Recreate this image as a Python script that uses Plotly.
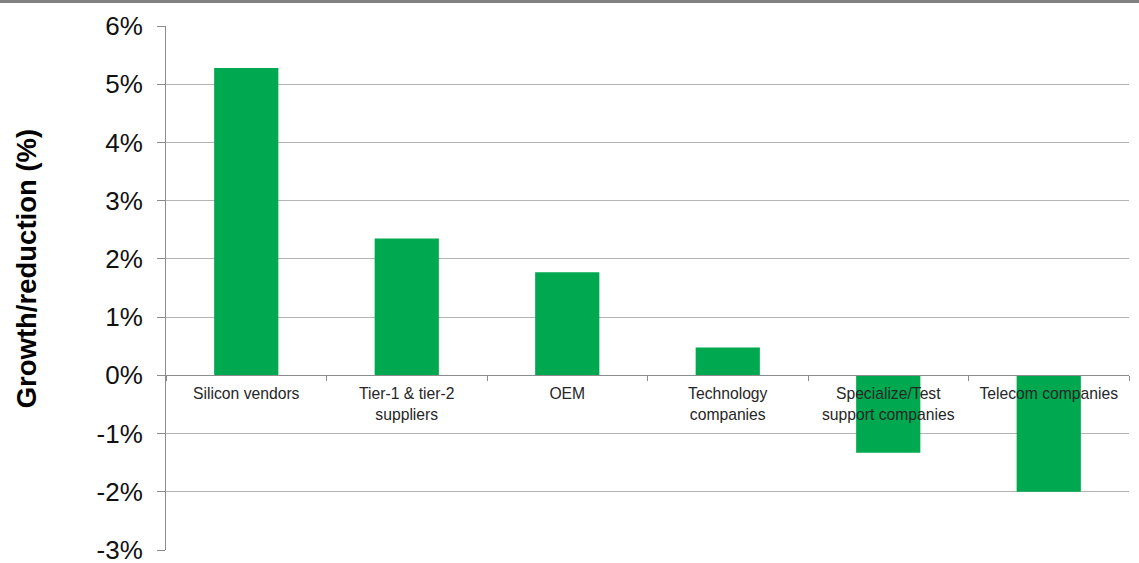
import plotly.graph_objects as go

# Change in share by company type, percent
categories = [
    "Silicon vendors",
    "Tier-1 & tier-2<br>suppliers",
    "OEM",
    "Technology<br>companies",
    "Specialize/Test<br>support companies",
    "Telecom companies",
]
growth_pct = [5.28, 2.35, 1.77, 0.48, -1.33, -2.0]

y_ticks = [-3, -2, -1, 0, 1, 2, 3, 4, 5, 6]
y_tick_labels = [f"{v}%" for v in y_ticks]

FONT = "Arial, Liberation Sans, sans-serif"
GREEN = "#00A94F"
GRID = "#B4B4B4"
AXIS = "#8C8C8C"

y_min, y_max = -3, 6

fig = go.Figure(
    go.Bar(
        x=categories,
        y=growth_pct,
        xaxis="x2",
        yaxis="y",
        marker=dict(color=GREEN, line=dict(width=0)),
        width=0.4,
    )
)

fig.update_layout(
    width=1139,
    height=563,
    margin=dict(l=166, r=10, t=26, b=13, autoexpand=False),
    paper_bgcolor="white",
    plot_bgcolor="white",
    showlegend=False,
    bargap=0.6,
    # bottom axis: only its baseline is drawn
    xaxis=dict(
        showline=True,
        linecolor=AXIS,
        linewidth=1,
        showticklabels=False,
        ticks="",
        showgrid=False,
        zeroline=False,
        automargin=False,
        fixedrange=True,
    ),
    # category axis drawn along the zero line
    xaxis2=dict(
        type="category",
        overlaying="x",
        anchor="free",
        position=(0 - y_min) / (y_max - y_min),
        side="bottom",
        showline=True,
        linecolor=AXIS,
        linewidth=1,
        ticks="outside",
        tickson="boundaries",
        ticklen=5,
        tickcolor=AXIS,
        showgrid=False,
        zeroline=False,
        tickfont=dict(family=FONT, size=15.7, color="#262626"),
        ticklabelstandoff=4,
        tickangle=0,
        automargin=False,
        fixedrange=True,
    ),
    yaxis=dict(
        range=[y_min, y_max],
        tickvals=y_ticks,
        ticktext=y_tick_labels,
        showgrid=True,
        gridcolor=GRID,
        gridwidth=1,
        zeroline=False,
        showline=True,
        linecolor=AXIS,
        linewidth=1,
        ticks="outside",
        ticklen=8,
        tickcolor=AXIS,
        tickfont=dict(family=FONT, size=26, color="#111111"),
        ticklabelstandoff=9,
        ticklabeloverflow="allow",
        automargin=False,
        fixedrange=True,
    ),
    annotations=[
        dict(
            text="<b>Growth/reduction (%)</b>",
            xref="paper",
            yref="paper",
            x=-0.145,
            y=(563 - 13 - 268) / (563 - 26 - 13),
            xanchor="center",
            yanchor="middle",
            textangle=-90,
            showarrow=False,
            font=dict(family=FONT, size=27.5, color="#000000"),
        )
    ],
    shapes=[
        # grey rule across the top of the page
        dict(
            type="rect",
            xref="paper",
            yref="paper",
            x0=-1,
            x1=2,
            y0=1 + 23 / 524,
            y1=1 + 30 / 524,
            fillcolor="#808080",
            line=dict(width=0),
            layer="above",
        )
    ],
)

fig.write_html("out.html")
